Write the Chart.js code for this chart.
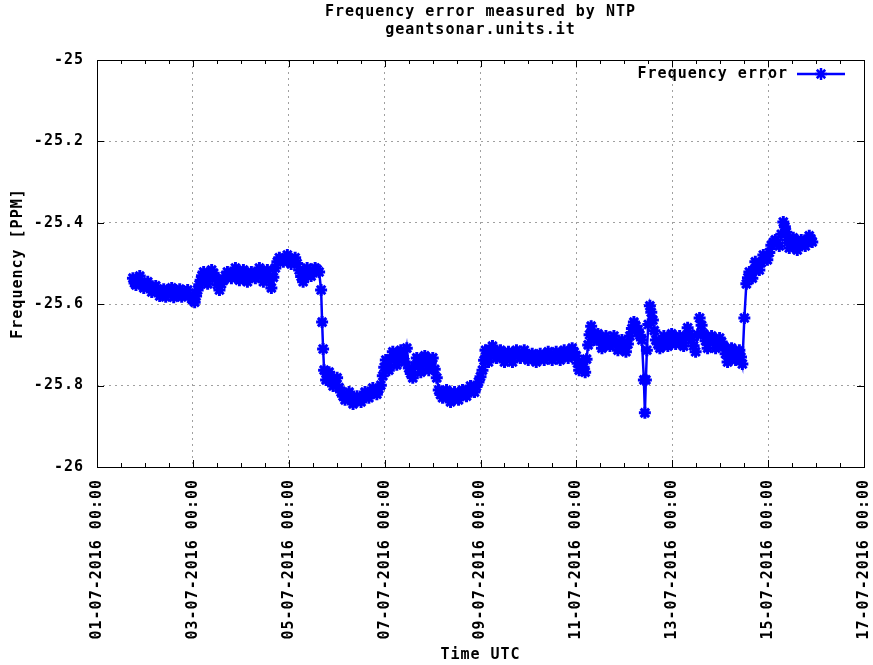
<!DOCTYPE html>
<html>
<head>
<meta charset="utf-8">
<script src="https://cdn.jsdelivr.net/npm/chart.js@4.4.1/dist/chart.umd.min.js"></script>
<style>
  html, body { margin: 0; padding: 0; background: #fff; }
  #wrap { width: 873px; height: 665px; }
</style>
</head>
<body>
<div id="wrap"><canvas id="ntpChart" width="873" height="665"></canvas></div>
<script>
// hours since 01-07-2016 00:00 UTC
const hours = [
  18.0, 18.8, 19.5, 20.4, 21.4, 22.4, 23.4, 24.4, 25.4, 26.4,
  27.4, 28.4, 29.4, 30.4, 31.4, 32.4, 33.4, 34.4, 35.4, 36.4,
  37.4, 38.4, 39.4, 40.4, 41.4, 42.4, 43.4, 44.4, 45.4, 46.4,
  47.4, 48.2, 48.9, 49.6, 50.4, 51.2, 51.9, 52.6, 53.4, 54.4,
  55.4, 56.4, 57.4, 58.4, 59.3, 60.3, 61.3, 62.3, 63.3, 64.3,
  65.3, 66.3, 67.3, 68.3, 69.3, 70.3, 71.3, 72.3, 73.3, 74.3,
  75.3, 76.3, 77.3, 78.3, 79.3, 80.3, 81.3, 82.3, 83.3, 84.3,
  85.3, 86.3, 87.3, 88.3, 89.3, 90.3, 91.3, 92.3, 93.3, 94.3,
  95.3, 96.3, 97.2, 98.2, 99.2, 100.2, 101.2, 102.2, 103.2, 104.2,
  105.2, 106.2, 107.2, 108.2, 109.2, 110.2, 111.2, 112.2, 112.7, 113.2,
  113.7, 114.7, 115.5, 116.2, 117.2, 118.2, 119.2, 120.2, 121.2, 122.2,
  123.2, 124.2, 125.2, 126.2, 127.2, 128.2, 129.2, 130.2, 131.2, 132.2,
  133.2, 134.2, 135.2, 136.1, 137.1, 138.1, 139.1, 140.1, 141.1, 142.1,
  143.1, 143.8, 144.6, 145.4, 146.1, 147.1, 148.1, 149.1, 150.1, 151.1,
  152.1, 153.1, 154.1, 155.1, 156.1, 157.1, 158.1, 159.1, 160.1, 161.1,
  162.1, 163.1, 164.1, 165.1, 166.1, 167.1, 168.1, 169.1, 170.1, 171.1,
  172.0, 173.0, 174.0, 175.0, 176.0, 177.0, 178.0, 179.0, 180.0, 181.0,
  182.0, 183.0, 184.0, 185.0, 186.0, 187.0, 188.0, 189.0, 190.0, 191.0,
  192.0, 193.0, 193.8, 194.5, 195.2, 196.0, 197.0, 198.0, 199.0, 200.0,
  201.0, 202.0, 203.0, 204.0, 205.0, 206.0, 207.0, 208.0, 209.0, 210.0,
  211.0, 212.0, 213.0, 213.9, 214.9, 215.9, 216.9, 217.9, 218.9, 219.9,
  220.9, 221.9, 222.9, 223.9, 224.9, 225.9, 226.9, 227.9, 228.9, 229.9,
  230.9, 231.9, 232.9, 233.9, 234.9, 235.9, 236.9, 237.9, 238.9, 239.9,
  240.6, 241.4, 242.1, 242.9, 243.6, 244.4, 245.1, 245.9, 246.6, 247.4,
  248.1, 248.9, 249.8, 250.8, 251.8, 252.8, 253.8, 254.8, 255.8, 256.8,
  257.8, 258.8, 259.8, 260.8, 261.8, 262.8, 263.8, 264.8, 265.8, 266.8,
  267.8, 268.8, 269.8, 270.8, 271.8, 272.8, 273.8, 274.3, 274.8, 275.3,
  276.0, 276.8, 277.5, 278.3, 279.0, 279.8, 280.8, 281.8, 282.8, 283.8,
  284.8, 285.8, 286.8, 287.7, 288.7, 289.7, 290.7, 291.7, 292.7, 293.7,
  294.7, 295.7, 296.7, 297.7, 298.7, 299.7, 300.7, 301.7, 302.7, 303.7,
  304.7, 305.7, 306.7, 307.7, 308.7, 309.7, 310.7, 311.7, 312.7, 313.7,
  314.7, 315.7, 316.7, 317.7, 318.7, 319.7, 320.7, 321.6, 322.4, 323.1,
  324.1, 325.1, 325.9, 326.6, 327.4, 328.1, 328.9, 329.6, 330.6, 331.6,
  332.6, 333.6, 334.6, 335.6, 336.6, 337.6, 338.6, 339.6, 340.6, 341.6,
  342.6, 343.6, 344.4, 345.1, 345.9, 346.6, 347.6, 348.6, 349.6, 350.6,
  351.6, 352.6, 353.6, 354.6, 355.6, 356.6, 357.4, 358.1
];
// PPM
const frequencyError = [
  -25.536, -25.548, -25.553, -25.540, -25.531, -25.548, -25.560, -25.552, -25.545, -25.558,
  -25.570, -25.563, -25.555, -25.570, -25.580, -25.568, -25.563, -25.582, -25.575, -25.568,
  -25.560, -25.583, -25.578, -25.570, -25.563, -25.582, -25.575, -25.570, -25.565, -25.578,
  -25.587, -25.590, -25.595, -25.580, -25.565, -25.552, -25.541, -25.530, -25.521, -25.536,
  -25.550, -25.530, -25.516, -25.524, -25.536, -25.552, -25.565, -25.550, -25.541, -25.530,
  -25.521, -25.528, -25.536, -25.522, -25.511, -25.528, -25.541, -25.530, -25.516, -25.530,
  -25.545, -25.533, -25.521, -25.530, -25.536, -25.522, -25.511, -25.528, -25.545, -25.530,
  -25.516, -25.540, -25.560, -25.534, -25.511, -25.496, -25.486, -25.490, -25.496, -25.488,
  -25.479, -25.492, -25.501, -25.492, -25.486, -25.500, -25.516, -25.532, -25.545, -25.526,
  -25.511, -25.520, -25.531, -25.522, -25.511, -25.515, -25.521, -25.565, -25.644, -25.710,
  -25.762, -25.786, -25.775, -25.767, -25.790, -25.801, -25.790, -25.781, -25.805, -25.816,
  -25.826, -25.835, -25.826, -25.816, -25.832, -25.845, -25.835, -25.826, -25.835, -25.840,
  -25.828, -25.816, -25.824, -25.830, -25.815, -25.806, -25.815, -25.821, -25.808, -25.799,
  -25.776, -25.755, -25.737, -25.752, -25.762, -25.735, -25.717, -25.735, -25.749, -25.728,
  -25.713, -25.728, -25.742, -25.708, -25.757, -25.770, -25.781, -25.752, -25.732, -25.752,
  -25.767, -25.745, -25.727, -25.745, -25.762, -25.745, -25.732, -25.760, -25.781, -25.811,
  -25.822, -25.830, -25.820, -25.811, -25.828, -25.840, -25.826, -25.816, -25.826, -25.835,
  -25.822, -25.811, -25.820, -25.826, -25.812, -25.801, -25.810, -25.816, -25.802, -25.791,
  -25.778, -25.762, -25.738, -25.713, -25.728, -25.742, -25.720, -25.703, -25.718, -25.732,
  -25.722, -25.713, -25.728, -25.742, -25.728, -25.717, -25.730, -25.742, -25.726, -25.713,
  -25.722, -25.732, -25.720, -25.713, -25.726, -25.737, -25.728, -25.722, -25.733, -25.742,
  -25.730, -25.722, -25.730, -25.737, -25.726, -25.717, -25.728, -25.737, -25.726, -25.717,
  -25.728, -25.737, -25.724, -25.713, -25.722, -25.732, -25.718, -25.708, -25.718, -25.727,
  -25.745, -25.762, -25.752, -25.742, -25.755, -25.767, -25.735, -25.700, -25.675, -25.654,
  -25.672, -25.688, -25.680, -25.673, -25.690, -25.708, -25.692, -25.678, -25.690, -25.703,
  -25.690, -25.678, -25.696, -25.713, -25.700, -25.688, -25.702, -25.717, -25.698, -25.678,
  -25.660, -25.644, -25.654, -25.663, -25.676, -25.688, -25.786, -25.867, -25.786, -25.713,
  -25.650, -25.604, -25.620, -25.639, -25.665, -25.688, -25.698, -25.708, -25.692, -25.678,
  -25.690, -25.703, -25.688, -25.673, -25.686, -25.698, -25.688, -25.678, -25.690, -25.703,
  -25.680, -25.658, -25.673, -25.688, -25.702, -25.717, -25.675, -25.634, -25.652, -25.673,
  -25.690, -25.708, -25.693, -25.678, -25.693, -25.708, -25.695, -25.683, -25.693, -25.703,
  -25.722, -25.742, -25.725, -25.708, -25.722, -25.737, -25.725, -25.713, -25.730, -25.747,
  -25.634, -25.550, -25.535, -25.521, -25.528, -25.536, -25.516, -25.496, -25.506, -25.516,
  -25.498, -25.479, -25.485, -25.491, -25.473, -25.455, -25.448, -25.442, -25.450, -25.457,
  -25.428, -25.398, -25.410, -25.423, -25.442, -25.462, -25.450, -25.437, -25.452, -25.467,
  -25.455, -25.442, -25.450, -25.457, -25.444, -25.432, -25.440, -25.447
];
const xMin = 0, xMax = 384;          // 01-07-2016 00:00 .. 17-07-2016 00:00
const majorStepHours = 48;
const minorStepHours = 12;
const yMin = -26, yMax = -25, yStep = 0.2;

const FONT = 'DejaVu Sans Mono';
const BLUE = '#0000ff';
const SPACING = '1px';

function dateLabel(h) {
  const day = 1 + Math.round(h / 24);
  return String(day).padStart(2, '0') + '-07-2016 00:00';
}

// gnuplot's font is wider than DejaVu Mono, widen it a bit
const spacing = {
  id: 'spacing',
  beforeLayout(chart) { chart.ctx.letterSpacing = SPACING; },
  beforeDraw(chart) { chart.ctx.letterSpacing = SPACING; }
};

const frame = {
  id: 'frame',
  afterDraw(chart) {
    const {ctx, chartArea: a, scales: {x, y}} = chart;
    ctx.save();
    ctx.strokeStyle = '#000';
    ctx.lineWidth = 1;
    ctx.strokeRect(a.left + 0.5, a.top + 0.5, a.right - a.left, a.bottom - a.top);
    ctx.beginPath();
    for (let h = xMin; h <= xMax; h += minorStepHours) {
      const px = Math.round(x.getPixelForValue(h)) + 0.5;
      const len = h % majorStepHours === 0 ? 7 : 4;
      ctx.moveTo(px, a.bottom); ctx.lineTo(px, a.bottom - len);
      ctx.moveTo(px, a.top); ctx.lineTo(px, a.top + len);
    }
    y.ticks.forEach(t => {
      const py = Math.round(y.getPixelForValue(t.value)) + 0.5;
      ctx.moveTo(a.left, py); ctx.lineTo(a.left + 7, py);
      ctx.moveTo(a.right, py); ctx.lineTo(a.right - 7, py);
    });
    ctx.stroke();

    // legend, top right inside the plot
    const ds = chart.data.datasets[0];
    const ly = a.top + 14;
    ctx.font = 'bold 15px "' + FONT + '"';
    ctx.fillStyle = '#000';
    ctx.textAlign = 'right';
    ctx.textBaseline = 'middle';
    ctx.fillText(ds.label, a.right - 76, ly);
    ctx.strokeStyle = BLUE;
    ctx.lineWidth = 2.5;
    ctx.beginPath();
    ctx.moveTo(a.right - 67, ly); ctx.lineTo(a.right - 19, ly);
    ctx.stroke();
    Chart.helpers.drawPoint(ctx, {pointStyle: 'star', radius: 6, borderWidth: 3}, a.right - 43, ly);
    ctx.restore();
  }
};

Chart.defaults.font.family = FONT;
Chart.defaults.font.weight = 'bold';
Chart.defaults.font.size = 15;
Chart.defaults.color = '#000';

new Chart(document.getElementById('ntpChart'), {
  type: 'line',
  data: {
    datasets: [{
      label: 'Frequency error',
      data: hours.map((h, i) => ({x: h, y: frequencyError[i]})),
      borderColor: BLUE,
      backgroundColor: BLUE,
      borderWidth: 2.5,
      pointStyle: 'star',
      pointRadius: 6,
      pointBorderWidth: 3,
      pointBorderColor: BLUE,
      tension: 0,
      fill: false
    }]
  },
  options: {
    responsive: false,
    animation: false,
    layout: {padding: {left: 0, right: 6, top: 0, bottom: 0}},
    plugins: {
      legend: {display: false},
      tooltip: {enabled: false},
      title: {
        display: true,
        fullSize: false,
        text: ['Frequency error measured by NTP', 'geantsonar.units.it'],
        font: {size: 15, weight: 'bold', lineHeight: 1.2},
        padding: {top: 3, bottom: 21}
      }
    },
    scales: {
      x: {
        type: 'linear',
        min: xMin,
        max: xMax,
        border: {display: false, dash: [2, 4]},
        grid: {color: '#a0a0a0', drawTicks: false},
        ticks: {
          stepSize: majorStepHours,
          autoSkip: false,
          maxRotation: 90,
          minRotation: 90,
          padding: 12,
          callback: v => dateLabel(v)
        },
        title: {display: true, text: 'Time UTC', padding: {top: 0, bottom: 1}},
        afterFit: s => { s.height = 198; s.paddingLeft = 0; s.paddingRight = 0; }
      },
      y: {
        min: yMin,
        max: yMax,
        border: {display: false, dash: [2, 4]},
        grid: {color: '#a0a0a0', drawTicks: false},
        ticks: {
          stepSize: yStep,
          padding: 13,
          callback: v => String(Number(v.toFixed(1)))
        },
        title: {display: true, text: 'Frequency [PPM]', padding: {top: 9, bottom: 0}},
        afterFit: s => { s.width = 97; s.paddingTop = 0; s.paddingBottom = 0; }
      }
    }
  },
  plugins: [spacing, frame]
});
</script>
</body>
</html>
